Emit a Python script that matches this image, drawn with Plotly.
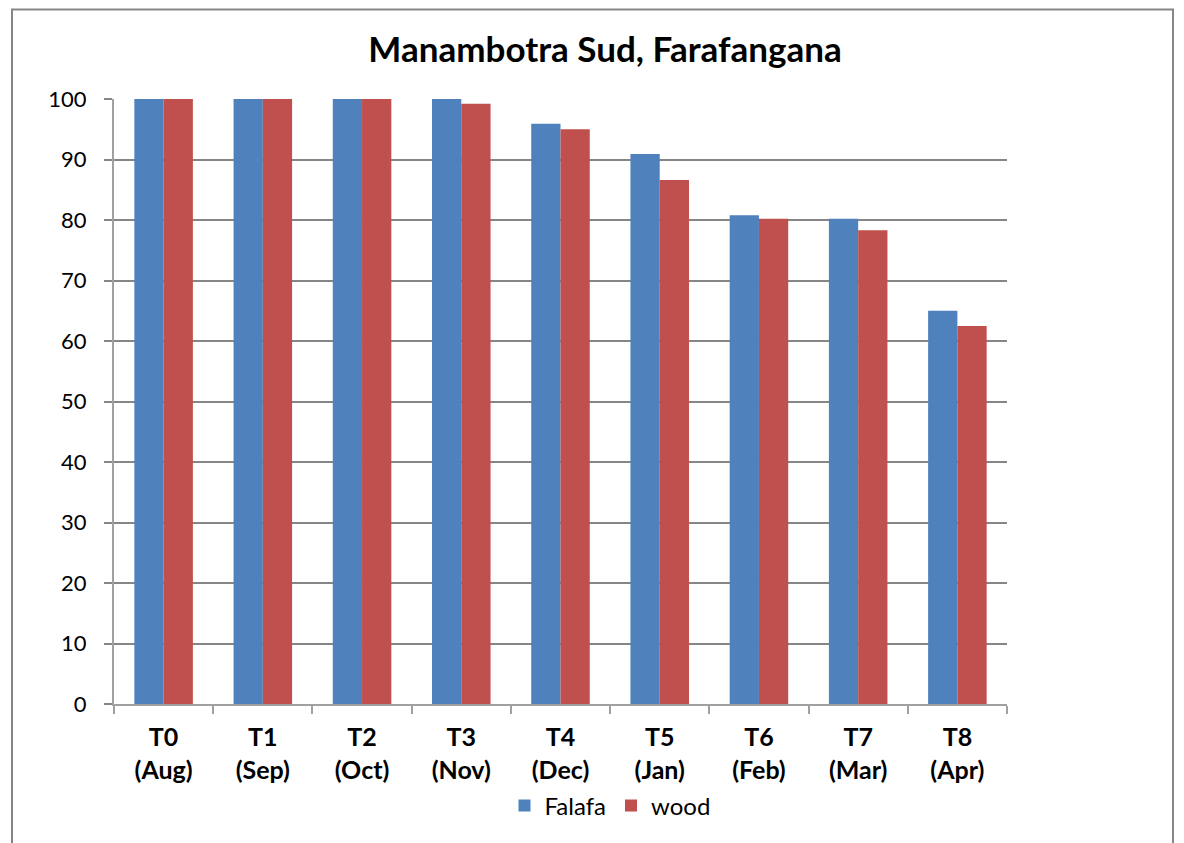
import plotly.graph_objects as go

categories = ["T0<br>(Aug)", "T1<br>(Sep)", "T2<br>(Oct)", "T3<br>(Nov)", "T4<br>(Dec)",
              "T5<br>(Jan)", "T6<br>(Feb)", "T7<br>(Mar)", "T8<br>(Apr)"]
falafa = [100, 100, 100, 100, 95.9, 90.9, 80.8, 80.2, 65.0]
wood = [100, 100, 100, 99.2, 95.0, 86.6, 80.2, 78.3, 62.5]

OFF = 8  # page body margin
W, H = 1184 - OFF, 843 - OFF
L, R, T, B = 114 - OFF, 1007 - OFF, 99 - OFF, 704 - OFF
pw, ph = R - L, B - T

def px(x):
    return (x - OFF - L) / pw

def py(y):
    return (B - (y - OFF)) / ph

fig = go.Figure()
fig.add_trace(go.Bar(x=categories, y=falafa, name="Falafa", marker=dict(color="#4F81BD", line=dict(width=0))))
fig.add_trace(go.Bar(x=categories, y=wood, name="wood", marker=dict(color="#C0504D", line=dict(width=0))))

fig.update_layout(
    width=W, height=H,
    margin=dict(l=L, r=W - R, t=T, b=H - B, pad=0),
    paper_bgcolor="white", plot_bgcolor="white",
    barmode="group", bargap=0.41, bargroupgap=0,
    font=dict(family="Lato, Open Sans, sans-serif", color="black"),
    title=dict(text="<b>Manambotra Sud, Farafangana</b>", x=(605 - OFF) / W, xref="container",
               xanchor="center", y=1 - (50 - OFF) / H, yanchor="middle",
               font=dict(size=35, color="black")),
    showlegend=True,
    legend=dict(orientation="h", x=px(610), xanchor="center", y=py(806), yanchor="middle",
                font=dict(size=24), itemsizing="constant", traceorder="normal"),
    xaxis=dict(showline=True, linecolor="#A0A0A0", linewidth=2, ticks="outside",
               tickson="boundaries", ticklen=8, tickcolor="#A0A0A0", tickwidth=2,
               tickfont=dict(size=25), ticklabelstandoff=10,
               showgrid=False, zeroline=False),
    yaxis=dict(range=[0, 100], dtick=10, tick0=0, showline=True, linecolor="#A0A0A0", linewidth=2,
               ticks="outside", ticklen=8, tickcolor="#868686", tickwidth=2,
               showgrid=True, gridcolor="#868686", gridwidth=2, zeroline=False,
               tickfont=dict(size=22), ticklabelstandoff=13),
)
fig.update_xaxes(ticktext=["<b>" + c + "</b>" for c in categories], tickvals=categories)

fig.add_shape(type="rect", xref="paper", yref="paper",
              x0=px(12), x1=px(1173), y0=py(870), y1=py(9.5),
              line=dict(color="#868686", width=2), fillcolor="rgba(0,0,0,0)", layer="below")

fig.write_html("out.html")
